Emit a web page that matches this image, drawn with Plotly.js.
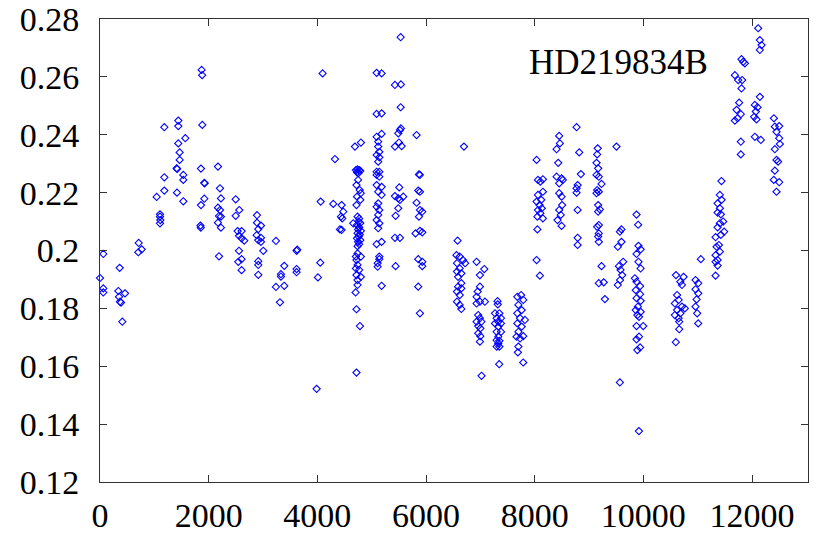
<!DOCTYPE html>
<html>
<head>
<meta charset="utf-8">
<script src="https://cdn.plot.ly/plotly-3.0.1.min.js"></script>
<style>html,body{margin:0;padding:0;background:#fff;}#chart{width:819px;height:541px;}</style>
</head>
<body>
<div id="chart"></div>
<script>
const starName = 'HD219834B';
const xTicks = [0, 2000, 4000, 6000, 8000, 10000, 12000];
const yTicks = [0.12, 0.14, 0.16, 0.18, 0.2, 0.22, 0.24, 0.26, 0.28];

const obsTime = [
  0,61,61,61,362,337,460,350,368,386,411,
  712,767,705,
  1043,1104,1104,1110,1104,1184,1184,1184,
  1441,1441,1570,1441,1466,1466,1411,1420,1533,1533,1417,1533,
  1870,1880,1883,1858,1920,1925,1858,1920,1849,1855,
  2171,2208,2226,2171,2208,2226,2171,2226,2190,2190,
  2497,2563,2497,2533,2606,2558,2606,2655,2558,2606,2545,2606,
  2889,2889,2962,2913,2883,2962,2962,2913,3005,2913,2913,2913,
  3238,3391,3330,3330,3238,3391,3312,
  3618,3630,3618,3618,
  4097,4061,4054,4011,3987,
  4324,4293,4447,4477,4435,4459,4416,4447,
  4692,4802,4710,4740,4770,4730,4760,4790,4750,4720,4780,4800,4730,4790,4720,4661,
  4740,4770,4760,4790,4730,4770,4750,4800,4740,4780,4760,4730,4790,4750,4770,4740,
  4710,4740,4800,4720,4740,4710,4770,4720,4800,4740,4740,4704,4720,4784,4720,
  5091,5183,5091,5183,5091,5183, 5120,5120,5140,5091,5140,5120, 5091,5140,5091,5140,
  5091,5183,5120,5183, 5120,5091,5140,5120,5091,5140,5120, 5091,5183,5140,5140,5110,5110,5183,
  5533,5428,5538,5533,5538,5520,5490,5428,5502,5551, 5508,5428,5489,5581,5520,5489,5440,5428,5520,5440,
  5826,5870,5888,5857,5888,5826,5888,5931,5870,5807,5888,5931,5857,5931,5931,5857,5888,
  6698,6581,6560,6620,6680,6720,6570,6620,6570,6650,6590,6650,6590,6650,6570,6620,6570,6620,6650,
  6931,7072,6992,6992,6950,6931,6992,7084,6931,6960,6992,6931,7020,6960,7000,6960,7000,6992,7022,
  7316,7320,7270,7350,7300,7380,7330,7270,7380,7330,7300,7380,7330,7300,7350,7330,7300,7350,7347,
  7750,7680,7790,7700,7760,7680,7730,7820,7680,7760,7700,7790,7666,7730,7700,7690,7789,
  8035,8060,8151,8105,8151,8060,8035,8120,8090,8130,8060,8105,8050,8151,8050,8035,8096,
  8451,8464,8403,8433,8403,8495,8451,8519,8451,8495,8505,8451,8480,8420,8495,
  8771,8820,8850,8790,8771,8771,8790,8790,8790,
  9160,9150,9138,9168,9138,9180,9230,9150,9180,9138,9168,9200,9168,9180,9150,9180,9168,9180,9230,9180,9270,9292,
  9505,9597,9568,9597,9530,9628,9550,9580,9610,9570,9530,9568,
  9874,9904,9910,9950,9874,9910,9950,9844,9874,9940,9860,9940,9874,9950,9900,9860,9950,9890,9920,9874,9997,9920,9874,9940,9890,9918,
  10600,10740,10680,10710,10620,10650,10580,10710,10620,10680,10580,10764,10650,10660,10660,10598,
  10960,11010,10960,11010,10980,10960,10990,11010,11058,
  11437,11408,11439,11366,11408,11366,11426,11469,11408,11366,11487,11426,11329,11390,11347,11408,11329,11366,11329,11366,11329,
  11806,11837,11868,11684,11745,11818,11806,11763,11715,11794,11733,11684,11794,11794,
  12113,12144,12175,12144,12144,12052,12101,12070,12083,12039,12052,12162,
  12402,12420,12500,12450,12500,12512,12420,12450,12480,12420,12400,12500,12450
];

const sIndex = [
  0.1905,0.1988,0.1869,0.1855,0.1940,0.1860,0.1852,0.1840,0.1823,0.1820,0.1754,
  0.2026,0.2004,0.1994,
  0.2185,0.2125,0.2117,0.2105,0.2094,0.2426,0.2253,0.2207,
  0.2449,0.2430,0.2388,0.2370,0.2339,0.2313,0.2284,0.2282,0.2261,0.2244,0.2200,0.2170,
  0.2624,0.2606,0.2434,0.2283,0.2234,0.2232,0.2157,0.2179,0.2086,0.2079,
  0.2290,0.2215,0.2180,0.2148,0.2140,0.2117,0.2096,0.2079,0.2119,0.1980,
  0.2177,0.2140,0.2120,0.2067,0.2067,0.2051,0.2042,0.2034,0.1999,0.1970,0.1961,0.1932,
  0.2122,0.2096,0.2086,0.2074,0.2053,0.2044,0.2030,0.2036,0.1999,0.1963,0.1950,0.1916,
  0.2033,0.1947,0.1918,0.1910,0.1874,0.1878,0.1821,
  0.1999,0.2003,0.1936,0.1925,
  0.2612,0.2169,0.1958,0.1907,0.1522,
  0.2316,0.2161,0.2157,0.2134,0.2117,0.2111,0.2073,0.2071,
  0.2359,0.2373,0.2278,0.2280,0.2278,0.2270,0.2268,0.2275,0.2244,0.2226,0.2209,0.2198,0.2186,0.2175,0.2157,0.2094,
  0.2117,0.2110,0.2100,0.2095,0.2088,0.2080,0.2073,0.2068,0.2060,0.2055,0.2048,0.2042,0.2036,0.2030,0.2022,0.2015,
  0.1979,0.1990,0.1979,0.1967,0.1950,0.1938,0.1933,0.1915,0.1909,0.1898,0.1881,0.1855,0.1797,0.1739,0.1578,
  0.2614,0.2612,0.2472,0.2474,0.2393,0.2403, 0.2376,0.2359,0.2341,0.2330,0.2322,0.2307, 0.2272,0.2272,0.2261,0.2255,
  0.2226,0.2220,0.2203,0.2192, 0.2163,0.2151,0.2140,0.2123,0.2105,0.2094,0.2077, 0.2022,0.2030,0.1979,0.1970,0.1956,0.1944,0.1878,
  0.2737,0.2572,0.2574,0.2495,0.2422,0.2416,0.2405,0.2359,0.2373,0.2361, 0.2218,0.2188,0.2180,0.2186,0.2175,0.2146,0.2120,0.2044,0.2044,0.1946,
  0.2399,0.2263,0.2261,0.2207,0.2203,0.2165,0.2140,0.2134,0.2117,0.2059,0.2068,0.2063,0.1970,0.1961,0.1946,0.1875,0.1783,
  0.2359,0.2034,0.1984,0.1979,0.1967,0.1956,0.1956,0.1938,0.1927,0.1921,0.1909,0.1887,0.1875,0.1869,0.1858,0.1846,0.1823,0.1812,0.1798,
  0.1961,0.1936,0.1915,0.1875,0.1858,0.1840,0.1823,0.1823,0.1817,0.1777,0.1766,0.1754,0.1754,0.1739,0.1731,0.1714,0.1704,0.1685,0.1567,
  0.1825,0.1814,0.1783,0.1783,0.1766,0.1766,0.1754,0.1748,0.1748,0.1737,0.1719,0.1719,0.1702,0.1690,0.1688,0.1679,0.1668,0.1668,0.1607,
  0.1846,0.1840,0.1829,0.1812,0.1794,0.1783,0.1766,0.1760,0.1748,0.1737,0.1719,0.1704,0.1702,0.1696,0.1668,0.1648,0.1613,
  0.2313,0.2244,0.2246,0.2238,0.2203,0.2192,0.2169,0.2175,0.2157,0.2146,0.2140,0.2129,0.2117,0.2111,0.2073,0.1967,0.1913,
  0.2396,0.2370,0.2350,0.2303,0.2255,0.2249,0.2232,0.2244,0.2198,0.2186,0.2157,0.2140,0.2123,0.2105,0.2085,
  0.2426,0.2339,0.2264,0.2226,0.2215,0.2200,0.2140,0.2044,0.2019,
  0.2353,0.2332,0.2303,0.2284,0.2261,0.2255,0.2230,0.2209,0.2203,0.2198,0.2157,0.2142,0.2134,0.2088,0.2082,0.2059,0.2048,0.2030,0.1946,0.1887,0.1890,0.1832,
  0.2359,0.2073,0.2065,0.2030,0.2013,0.1961,0.1946,0.1933,0.1915,0.1898,0.1881,0.1544,
  0.2124,0.2089,0.2016,0.2004,0.1988,0.1961,0.1938,0.1904,0.1892,0.1877,0.1863,0.1849,0.1835,0.1826,0.1806,0.1794,0.1788,0.1777,0.1771,0.1739,0.1739,0.1702,0.1693,0.1665,0.1656,0.1376,
  0.1915,0.1909,0.1892,0.1881,0.1846,0.1829,0.1817,0.1806,0.1794,0.1783,0.1777,0.1800,0.1766,0.1754,0.1728,0.1683,
  0.1898,0.1887,0.1866,0.1852,0.1831,0.1806,0.1783,0.1748,0.1970,
  0.2240,0.2192,0.2175,0.2163,0.2146,0.2131,0.2125,0.2100,0.2094,0.2080,0.2065,0.2054,0.2046,0.2019,0.2013,0.1996,0.1984,0.1967,0.1961,0.1948,0.1913,
  0.2661,0.2652,0.2647,0.2606,0.2589,0.2589,0.2560,0.2511,0.2486,0.2471,0.2457,0.2449,0.2376,0.2332,
  0.2768,0.2727,0.2710,0.2693,0.2531,0.2503,0.2495,0.2480,0.2453,0.2462,0.2393,0.2382,
  0.2457,0.2428,0.2430,0.2410,0.2388,0.2368,0.2350,0.2313,0.2307,0.2276,0.2244,0.2236,0.2203
];

if (obsTime.length !== sIndex.length) console.error('length mismatch', obsTime.length, sIndex.length);

const fontFam = 'Liberation Serif, Times New Roman, serif';
const xRange = [0, 13030];
const yRange = [0.12, 0.28];
const tickFont = {family: fontFam, size: 34, color: '#000'};

const trace = {
  x: obsTime, y: sIndex, type: 'scatter', mode: 'markers',
  cliponaxis: false,
  marker: {symbol: 'diamond-open', size: 5.5, color: '#0000ff', line: {width: 1.1, color: '#0000ff'}},
  hoverinfo: 'x+y'
};
// invisible helper trace so the overlay axes (inside tick marks) are drawn
const tickHelper = {
  x: [xRange[0]], y: [yRange[0]], xaxis: 'x2', yaxis: 'y2', type: 'scatter', mode: 'markers',
  marker: {opacity: 0}, hoverinfo: 'skip', showlegend: false
};

const layout = {
  width: 819, height: 541,
  margin: {l: 100, r: 11, t: 19, b: 59},
  paper_bgcolor: '#fff', plot_bgcolor: '#fff',
  showlegend: false,
  font: {family: fontFam},
  xaxis: {
    range: xRange, tickvals: xTicks, ticktext: xTicks.map(String),
    showline: true, mirror: true, linecolor: '#333', linewidth: 1,
    ticks: 'outside', ticklen: 3, tickcolor: 'rgba(0,0,0,0)',
    showgrid: false, zeroline: false, tickfont: tickFont
  },
  yaxis: {
    range: yRange, tickvals: yTicks, ticktext: yTicks.map(String),
    showline: true, mirror: true, linecolor: '#333', linewidth: 1,
    ticks: 'outside', ticklen: 13, tickcolor: 'rgba(0,0,0,0)',
    showgrid: false, zeroline: false, tickfont: tickFont
  },
  xaxis2: {
    overlaying: 'x', range: xRange, tickvals: xTicks, showticklabels: false,
    ticks: 'inside', ticklen: 7, tickwidth: 1, tickcolor: '#333', mirror: 'ticks',
    showline: false, showgrid: false, zeroline: false
  },
  yaxis2: {
    overlaying: 'y', range: yRange, tickvals: yTicks, showticklabels: false,
    ticks: 'inside', ticklen: 7, tickwidth: 1, tickcolor: '#333', mirror: 'ticks',
    showline: false, showgrid: false, zeroline: false
  },
  annotations: [{
    text: starName, xref: 'paper', yref: 'paper', x: 0.603, y: 0.905,
    xanchor: 'left', yanchor: 'middle', showarrow: false,
    font: {family: fontFam, size: 35, color: '#000'}
  }]
};

Plotly.newPlot('chart', [tickHelper, trace], layout, {displayModeBar: false, staticPlot: true});
</script>
</body>
</html>
